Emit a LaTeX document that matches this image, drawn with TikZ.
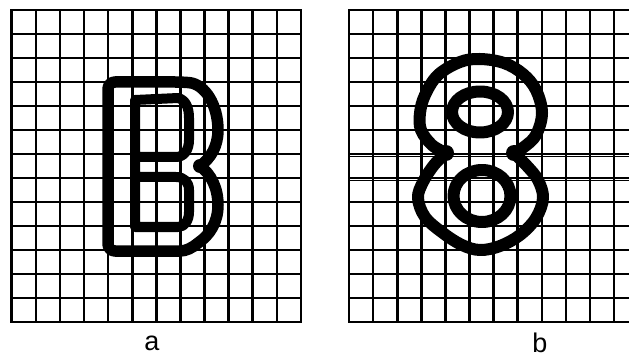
\documentclass[tikz,border=0pt]{standalone}
\usepackage{fontspec}
\setmainfont{Liberation Sans}
\usepackage{xcolor}
\usepackage{tikz}
\usetikzlibrary{calc}

\tikzset{
    gridline/.style={draw=black, line width=2.6pt, line cap=rect},
    outerstroke/.style={draw=black, line width=11.5pt, line cap=round, line join=round},
    innerstroke/.style={draw=black, line width=10pt, line cap=round, line join=round},
    eightstroke/.style={draw=black, line width=12pt, line cap=round, line join=round},
    blob/.style={fill=black},
    caption/.style={inner sep=0pt, anchor=base, font=\fontsize{27}{30}\selectfont}
}

\begin{document}
\begin{tikzpicture}[x=1pt, y=-1pt]
    \useasboundingbox (0,0) rectangle (629,358);
    \begin{scope}
      \clip (0,0) rectangle (629,358);
      % left grid
      \foreach \i in {0,...,12}
        \draw[gridline] ({11.7+24.1*\i},10) -- ({11.7+24.1*\i},322);
      \foreach \j in {0,...,13}
        \draw[gridline] (11.7,{10+24*\j}) -- (300.9,{10+24*\j});
      % right grid
      \foreach \i in {0,...,12}
        \draw[gridline] ({349+24.1*\i},10) -- ({349+24.1*\i},322);
      \foreach \j in {0,...,13}
        \draw[gridline] (349,{10+24*\j}) -- (638.2,{10+24*\j});
      \draw[gridline, line width=1.3pt] (349,156.5) -- (638.2,156.5);
      \draw[gridline, line width=1.3pt] (349,180.5) -- (638.2,180.5);
    \end{scope}

    % letter B
    \coordinate (notch) at (200,166);
    \draw[outerstroke] (180,251) [rounded corners=7pt] -- (108,251) -- (108,82) -- (182,82)
      [sharp corners] .. controls (205,84) and (218,105) .. (218,130)
      .. controls (218,146) and (211,158) .. (notch)
      .. controls (211,174) and (218,188) .. (218,205)
      .. controls (218,222) and (210,235) .. (198,243)
      .. controls (192,248) and (186,251) .. (180,251);
    \fill[blob] (notch) circle (7pt);
    \draw[innerstroke] (135,157) -- (135,100) -- (178,98)
      .. controls (186,100) and (189,108) .. (189,118) -- (189,140)
      .. controls (189,150) and (184,157) .. (176,157) -- (135,157)
      -- (135,227) -- (178,227)
      .. controls (185,227) and (189,220) .. (189,212) -- (189,190)
      .. controls (189,182) and (184,177) .. (176,177) -- (135,177);

    % figure 8
    \coordinate (lblob) at (446,153);
    \coordinate (rblob) at (514,153);
    \draw[eightstroke] plot[smooth, tension=0.6] coordinates {(446,153) (432,145) (421,130) (420,113)
      (425,95) (438,75) (460,62) (480,59) (504,63) (523,74) (536,90) (542,113) (536,135) (524,147) (514,153)};
    \draw[eightstroke] plot[smooth, tension=0.6] coordinates {(446,153) (434,165) (423,182) (418,198)
      (425,217) (443,233) (462,245) (480,250) (500,246) (520,235) (536,218) (543,198) (538,180) (527,166) (514,153)};
    \fill[blob] (lblob) circle (8pt);
    \fill[blob] (rblob) circle (8pt);
    \draw[eightstroke] (480,112) ellipse [x radius=28pt, y radius=20.5pt];
    \draw[eightstroke] (482,196) ellipse [x radius=28.5pt, y radius=26pt];

    \node[caption] (lbla) at (152,350) {a};
    \node[caption] (lblb) at (540,352) {b};
\end{tikzpicture}
\end{document}
